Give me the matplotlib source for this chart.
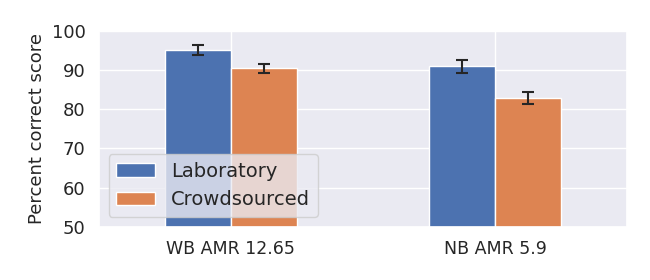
import matplotlib
matplotlib.use("Agg")
import matplotlib.pyplot as plt
import numpy as np
import seaborn as sns

sns.set_theme(style="darkgrid")

conditions = ["WB AMR 12.65", "NB AMR 5.9"]
lab_scores = [95.1, 90.9]
lab_err = [1.4, 1.6]
crowd_scores = [90.4, 82.9]
crowd_err = [1.1, 1.5]

fig, ax = plt.subplots(figsize=(6.5, 2.8), dpi=100)
x = np.arange(len(conditions))
w = 0.25
ax.bar(x - w / 2, lab_scores, w, yerr=lab_err, capsize=4, label="Laboratory",
       color="#4c72b0", edgecolor="white", error_kw=dict(ecolor="#262626", elinewidth=1.5, capthick=1.5))
ax.bar(x + w / 2, crowd_scores, w, yerr=crowd_err, capsize=4, label="Crowdsourced",
       color="#dd8452", edgecolor="white", error_kw=dict(ecolor="#262626", elinewidth=1.5, capthick=1.5))

ax.set_xticks(x)
ax.set_xticklabels(conditions, fontsize=12.5)
ax.set_xlim(-0.5, 1.5)
ax.set_ylim(50, 100)
ax.tick_params(axis="y", labelsize=13)
ax.set_ylabel("Percent correct score", fontsize=13)
ax.legend(loc="lower left", fontsize=14)

fig.subplots_adjust(left=0.152, right=0.965, top=0.89, bottom=0.19)
fig.savefig("out.png")
